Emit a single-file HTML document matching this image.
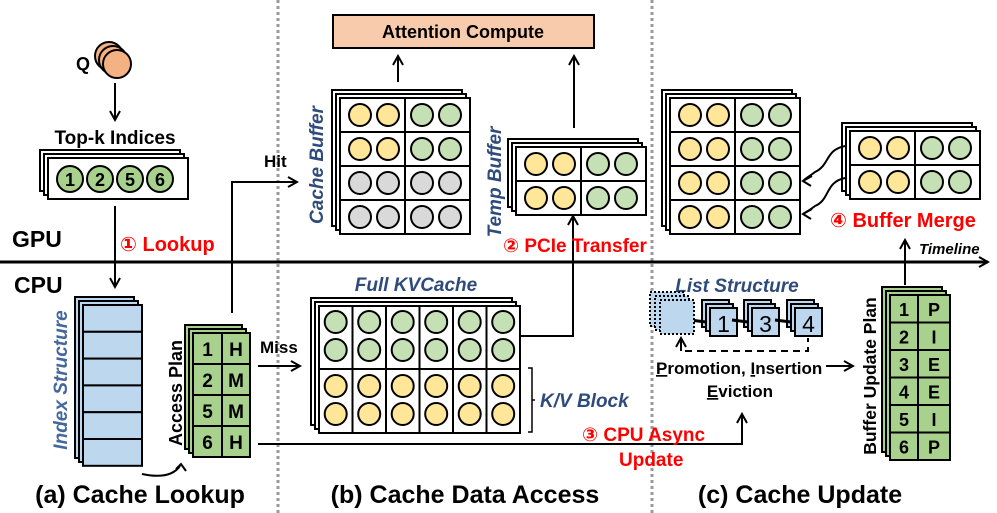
<!DOCTYPE html>
<html><head><meta charset="utf-8"><style>
html,body{margin:0;padding:0;background:#fff;width:997px;height:513px;overflow:hidden}
svg{display:block}
text{font-family:"Liberation Sans","DejaVu Sans",sans-serif}
.b{font-weight:bold}
.bl{fill:#2f4b7c;font-style:italic;font-weight:bold}
.rd{fill:#ff0000;font-weight:bold}
</style></head><body>
<svg id="s" width="997" height="513" viewBox="0 0 997 513" xmlns="http://www.w3.org/2000/svg">
<defs>
<marker id="ar" markerWidth="12" markerHeight="12" refX="10" refY="6" orient="auto" markerUnits="userSpaceOnUse">
<path d="M1,1 L10,6 L1,11" fill="none" stroke="#000" stroke-width="2"/></marker>
</defs>
<g id="g"></g>
<line x1="278" y1="0" x2="278" y2="513" stroke="#999" stroke-width="3" stroke-dasharray="3,3"/>
<line x1="652" y1="0" x2="652" y2="513" stroke="#999" stroke-width="3" stroke-dasharray="3,3"/>
<line x1="0" y1="262" x2="988" y2="262" stroke="#000" stroke-width="3" marker-end="url(#ar)"/>
<text x="12" y="247" class="b" font-size="23">GPU</text>
<text x="14" y="293" class="b" font-size="23">CPU</text>
<circle cx="109" cy="56" r="14" fill="#f4b183" stroke="#000" stroke-width="2"/>
<circle cx="113" cy="60" r="14" fill="#f4b183" stroke="#000" stroke-width="2"/>
<circle cx="117" cy="64" r="14" fill="#f4b183" stroke="#000" stroke-width="2"/>
<text x="76" y="70" class="b" font-size="18">Q</text>
<line x1="115" y1="83" x2="115" y2="120" stroke="#000" stroke-width="2" marker-end="url(#ar)"/>
<text x="115" y="144" class="b" font-size="19" text-anchor="middle">Top-k Indices</text>
<line x1="115" y1="206" x2="115" y2="287" stroke="#000" stroke-width="2" marker-end="url(#ar)"/>
<text x="120" y="251" class="rd" font-size="20">① Lookup</text>
<polyline points="232,313 232,182 297,182" fill="none" stroke="#000" stroke-width="2" marker-end="url(#ar)"/>
<text x="264" y="167" class="b" font-size="17">Hit</text>
<line x1="258" y1="366" x2="300" y2="366" stroke="#000" stroke-width="2" marker-end="url(#ar)"/>
<text x="260" y="353" class="b" font-size="17">Miss</text>
<polyline points="258,444 742,444 742,414" fill="none" stroke="#000" stroke-width="2" marker-end="url(#ar)"/>
<text x="582" y="441" class="rd" font-size="19">③ CPU Async</text>
<text x="619" y="466" class="rd" font-size="19">Update</text>
<path d="M142,474 Q170,480 180,466" fill="none" stroke="#000" stroke-width="2"/>
<path d="M176,469 L181,464 L186,471" fill="none" stroke="#000" stroke-width="2"/>
<text transform="translate(67,380) rotate(-90)" class="bl" font-size="19" text-anchor="middle" style="fill:#44679e">Index Structure</text>
<text transform="translate(182,393) rotate(-90)" class="b" font-size="18" text-anchor="middle">Access Plan</text>
<text x="140" y="503" class="b" font-size="25" text-anchor="middle">(a) Cache Lookup</text>
<rect x="333" y="15" width="261" height="33" fill="#f8cbad" stroke="#000" stroke-width="2"/>
<text x="463" y="38" class="b" font-size="18" text-anchor="middle">Attention Compute</text>
<line x1="398" y1="82" x2="398" y2="56" stroke="#000" stroke-width="2" marker-end="url(#ar)"/>
<line x1="574" y1="128" x2="574" y2="56" stroke="#000" stroke-width="2" marker-end="url(#ar)"/>
<text transform="translate(323,165) rotate(-90)" class="bl" font-size="19" text-anchor="middle">Cache Buffer</text>
<text transform="translate(501,182) rotate(-90)" class="bl" font-size="19" text-anchor="middle">Temp Buffer</text>
<polyline points="520,336 573,336 573,216" fill="none" stroke="#000" stroke-width="2" marker-end="url(#ar)"/>
<text x="503" y="252" class="rd" font-size="19">② PCIe Transfer</text>
<text x="416" y="291" class="bl" font-size="19" text-anchor="middle">Full KVCache</text>
<path d="M528,368 L532,368 L532,432 L528,432 M532,400 L535,400" fill="none" stroke="#000" stroke-width="1.5"/>
<text x="540" y="407" class="bl" font-size="19">K/V Block</text>
<text x="465" y="503" class="b" font-size="25" text-anchor="middle">(b) Cache Data Access</text>
<path d="M845,146 C825,150 830,165 815,172 C810,176 806,178 803,181" fill="none" stroke="#000" stroke-width="2"/>
<path d="M845,178 C825,182 830,200 815,206 C810,210 806,212 803,214" fill="none" stroke="#000" stroke-width="2"/>
<path d="M812,176 L803,181 L811,186 M812,209 L803,214 L811,219" fill="none" stroke="#000" stroke-width="2"/>
<text x="830" y="227" class="rd" font-size="20">④ Buffer Merge</text>
<line x1="905" y1="285" x2="905" y2="240" stroke="#000" stroke-width="2" marker-end="url(#ar)"/>
<text x="919" y="254" font-size="15" font-style="italic" font-weight="bold">Timeline</text>
<text x="737" y="292" class="bl" font-size="19" text-anchor="middle">List Structure</text>
<rect x="650" y="292" width="34" height="34" fill="#bdd7ee" stroke="#000" stroke-width="2" stroke-dasharray="2,2"/>
<rect x="655" y="296" width="34" height="34" fill="#bdd7ee" stroke="#000" stroke-width="2" stroke-dasharray="2,2"/>
<rect x="660" y="300" width="34" height="34" fill="#bdd7ee" stroke="#000" stroke-width="2" stroke-dasharray="2,2"/>
<polyline points="685,351 808,351 808,338" fill="none" stroke="#000" stroke-width="2" stroke-dasharray="7,5"/>
<line x1="681" y1="351" x2="681" y2="338" stroke="#000" stroke-width="2" marker-end="url(#ar)"/>
<text x="656" y="374" class="b" font-size="17"><tspan text-decoration="underline">P</tspan>romotion, <tspan text-decoration="underline">I</tspan>nsertion</text>
<text x="740" y="397" class="b" font-size="17" text-anchor="middle"><tspan text-decoration="underline">E</tspan>viction</text>
<line x1="826" y1="366" x2="853" y2="366" stroke="#000" stroke-width="2" marker-end="url(#ar)"/>
<text transform="translate(876,376) rotate(-90)" class="b" font-size="17.5" text-anchor="middle">Buffer Update Plan</text>
<text x="800" y="503" class="b" font-size="25" text-anchor="middle">(c) Cache Update</text>
</svg>
<script>
var G='',Y='#ffe699',Gr='#c5e0b4',Gy='#d9d9d9';
function R(x,y,w,h,f,sw){G+='<rect x="'+x+'" y="'+y+'" width="'+w+'" height="'+h+'" fill="'+f+'" stroke="#000" stroke-width="'+(sw||2)+'"/>';}
function C(x,y,r,f){G+='<circle cx="'+x+'" cy="'+y+'" r="'+r+'" fill="'+f+'" stroke="#000" stroke-width="2"/>';}
function T(x,y,s,sz,b){G+='<text x="'+x+'" y="'+y+'" font-size="'+sz+'" text-anchor="middle"'+(b?' font-weight="bold"':'')+'>'+s+'</text>';}
function stack(x,y,w,h,f,d){for(var i=2;i>=1;i--)R(x-i*d,y-i*d,w,h,f);}
stack(48,158,140,41,'#fff',4);R(48,158,140,41,'#fff');
[70,100,130,160].forEach(function(x,i){C(x,179,13,'#a9d18e');T(x,186,['1','2','5','6'][i],18,true);});
stack(83,305,59,161,'#bdd7ee',4);
for(var i=0;i<6;i++)R(83,305+i*26.8,59,26.8,'#bdd7ee');
stack(193,333,57,124,'#a9d18e',4);
var ap=[['1','H'],['2','M'],['5','M'],['6','H']];
for(i=0;i<4;i++){R(193,333+i*31,29,31,'#a9d18e');R(222,333+i*31,28,31,'#a9d18e');T(207.5,356+i*31,ap[i][0],19,true);T(236,356+i*31,ap[i][1],19,true);}
function buf(x,y,rows,cols){var w=130,rh=34;stack(x,y,w,rows*rh,'#fff',4);
 for(var r=0;r<rows;r++){R(x,y+r*rh,65,rh,'#fff');R(x+65,y+r*rh,65,rh,'#fff');
  var c=cols[r];C(x+20,y+r*rh+17,11,c[0]);C(x+48,y+r*rh+17,11,c[0]);C(x+82,y+r*rh+17,11,c[1]);C(x+110,y+r*rh+17,11,c[1]);}}
buf(340,98,4,[[Y,Gr],[Y,Gr],[Gy,Gy],[Gy,Gy]]);
buf(516,147,2,[[Y,Gr],[Y,Gr]]);
buf(670,98,4,[[Y,Gr],[Y,Gr],[Y,Gr],[Y,Gr]]);
buf(850,131,2,[[Y,Gr],[Y,Gr]]);
stack(319,306,201,127,'#fff',4);
for(var c=0;c<6;c++){var x=319+c*33.5;R(x,306,33.5,63,'#fff');R(x,369,33.5,64,'#fff');
 C(x+16.7,322,11,Gr);C(x+16.7,350,11,Gr);C(x+16.7,386,11,Y);C(x+16.7,414,11,Y);}
[[710,'1'],[752,'3'],[795,'4']].forEach(function(a){var x=a[0];R(x-8,300,27,27,'#bdd7ee');R(x-4,304,27,27,'#bdd7ee');R(x,308,27,28,'#bdd7ee');T(x+13.5,332,a[1],23,false);
 G+='<line x1="'+(x-20)+'" y1="320" x2="'+(x-4)+'" y2="322" stroke="#000" stroke-width="3"/>';});
stack(890,295,60,165,'#a9d18e',4);
var bp=[['1','P'],['2','I'],['3','E'],['4','E'],['5','I'],['6','P']];
for(i=0;i<6;i++){R(890,295+i*27.5,28,27.5,'#a9d18e');R(918,295+i*27.5,32,27.5,'#a9d18e');T(904,316+i*27.5,bp[i][0],18,true);T(934,316+i*27.5,bp[i][1],18,true);}
document.getElementById('g').innerHTML=G;
</script>
</body></html>
